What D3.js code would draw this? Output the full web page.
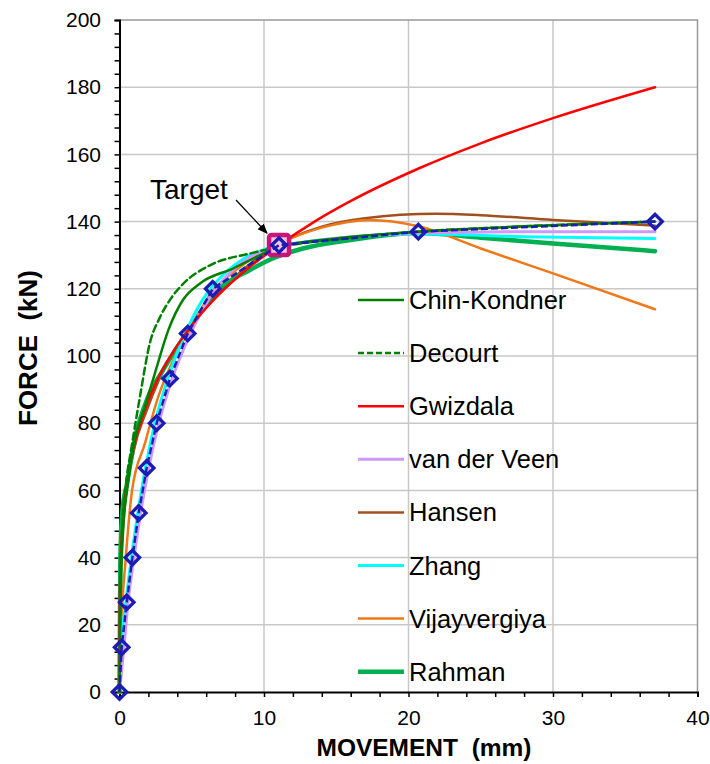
<!DOCTYPE html>
<html><head><meta charset="utf-8">
<script src="https://cdn.jsdelivr.net/npm/d3@7"></script>
<style>body{margin:0;background:#fff}svg{display:block}text{font-family:"Liberation Sans",Arial,sans-serif}</style>
</head><body><div id="chart"></div>
<script>
// ---- data ----
const xTicks = [0, 10, 20, 30, 40];
const yTicks = [0, 20, 40, 60, 80, 100, 120, 140, 160, 180, 200];

const measuredS = [0, 0.15, 0.5, 0.89, 1.33, 1.88, 2.57, 3.49, 4.72, 6.45, 11.04, 20.68, 37.06];
const measuredQ = [0, 13.3, 26.7, 40, 53.3, 66.7, 80, 93.3, 106.7, 120, 133, 137, 140];

const target = [11.04, 133];

const chinS = [0, 0.08, 0.25, 0.52, 1.0, 1.76, 2.46, 3.38, 4.41, 5.57, 7.88, 10.2, 11.04, 15, 20.7, 28, 37.06];
const chinQ = [0, 28, 48, 60, 74, 85, 95, 107.7, 116.8, 121.6, 126.1, 131, 132.6, 135, 137, 138.6, 140];

const decourtS = [0, 0.05, 0.2, 0.45, 0.84, 1.42, 2.11, 2.8, 3.49, 4.41, 6.26, 9.03, 11.04, 15, 20.7, 28, 37.06];
const decourtQ = [0, 30, 50, 62, 73, 88, 104, 111.5, 116.7, 121.5, 127, 130.5, 132.4, 134.8, 137, 138.6, 140];

const gwizS = [0, 0.02, 0.05, 0.1, 0.29, 0.6, 1.0, 1.8, 2.69, 3.8, 4.88, 6.45, 8.5, 11.04, 13.5, 15.95, 20.7, 25, 30, 37.06];
const gwizQ = [0, 27, 34.5, 41, 53.8, 64.5, 73, 84.5, 93.5, 101.8, 108.5, 116.4, 124.7, 133, 140, 146, 155.8, 163.3, 170.8, 180];

const veenS = [0, 0.3, 0.6, 1.0, 1.45, 2.02, 2.72, 3.65, 4.9, 6.55, 11.04, 20.7, 28, 37.06];
const veenQ = [0, 13, 27, 40, 53, 66.7, 80, 93.3, 106.5, 119.3, 132.5, 136.6, 137, 137];

const hansenS = [0, 0.05, 0.3, 1.0, 1.9, 2.69, 3.8, 4.88, 6.45, 8.5, 11.04, 14, 17, 21.9, 25, 30, 37.06];
const hansenQ = [0, 33, 52, 72, 84, 92.5, 101.5, 108.5, 117, 125.5, 133.3, 138.5, 141, 142.3, 141.9, 140.5, 138.8];

const zhangS = [0, 0.12, 0.45, 0.83, 1.27, 1.8, 2.45, 3.35, 4.55, 6.2, 11.04, 20.7, 28, 37.06];
const zhangQ = [0, 13, 27, 40, 53.3, 66.7, 80, 93.3, 106.7, 119.5, 132.8, 136.3, 135.5, 135];

const vijayS = [0, 0.15, 0.4, 0.87, 1.76, 2.69, 3.61, 5.0, 6.38, 8.2, 10.3, 11.04, 14, 17.3, 20.7, 25, 30, 37.06];
const vijayQ = [0, 22, 38, 60, 74, 88, 97.8, 109, 119, 126, 132, 133.5, 138.2, 140.5, 138.6, 132, 124.6, 113.9];

const rahmanS = [0, 0.06, 0.2, 0.52, 1.0, 1.99, 2.9, 3.9, 4.65, 6.73, 9.03, 10.64, 12.7, 16, 20.7, 25, 30, 37.06];
const rahmanQ = [0, 40, 54, 62, 74, 88, 95, 102, 106.8, 119.3, 125.6, 129.1, 132, 134.5, 136.6, 135.2, 133.5, 131.2];

const seriesNames = ["Chin-Kondner", "Decourt", "Gwizdala", "van der Veen", "Hansen", "Zhang", "Vijayvergiya", "Rahman"];
const seriesColors = ["#008000", "#008000", "#ff0000", "#cc99ff", "#a0501e", "#00ffff", "#f07818", "#00b050"];

// ---- chart ----
const W = 710, H = 764;
const m = {left: 119.5, right: 12.5, top: 20, bottom: 72};
const svg = d3.select("#chart").append("svg").attr("width", W).attr("height", H);
const x = d3.scaleLinear().domain([0, 40]).range([m.left, W - m.right]);
const y = d3.scaleLinear().domain([0, 200]).range([H - m.bottom, m.top]);

// grid
svg.append("g").selectAll("line").data(yTicks.slice(1, -1)).join("line")
  .attr("x1", x(0)).attr("x2", x(40)).attr("y1", d => y(d)).attr("y2", d => y(d))
  .attr("stroke", "#c8c8c8").attr("stroke-width", 1.5);
svg.append("g").selectAll("line").data(xTicks.slice(1, -1)).join("line")
  .attr("y1", y(0)).attr("y2", y(200)).attr("x1", d => x(d)).attr("x2", d => x(d))
  .attr("stroke", "#c8c8c8").attr("stroke-width", 1.5);
// top/right border
svg.append("path").attr("d", `M${x(0)},${y(200)}H${x(40)}V${y(0)}`)
  .attr("fill", "none").attr("stroke", "#999").attr("stroke-width", 1.5);

// axes
const xAxis = d3.axisBottom(x).tickValues(d3.range(0, 40.01, 2)).tickSize(5).tickFormat(d => xTicks.includes(d) ? d : "");
const yAxis = d3.axisLeft(y).tickValues(d3.range(0, 200.01, 4)).tickSize(5).tickFormat(d => yTicks.includes(d) ? d : "");
const gx = svg.append("g").attr("transform", `translate(0,${y(0)})`).call(xAxis);
const gy = svg.append("g").attr("transform", `translate(${x(0)},0)`).call(yAxis);
[gx, gy].forEach(g => {
  g.select(".domain").attr("stroke", "#000").attr("stroke-width", 2);
  g.selectAll(".tick line").attr("stroke", "#000").attr("stroke-width", 1.5);
  g.selectAll(".tick text").attr("fill", "#000").attr("font-size", 21).attr("font-family", "Liberation Sans, Arial, sans-serif");
});
gx.selectAll(".tick text").attr("dy", "1.2em");
gy.selectAll(".tick text").attr("dx", "-0.5em");

svg.append("text").attr("x", 424).attr("y", 756).attr("text-anchor", "middle")
  .attr("font-size", 24.5).attr("font-weight", "bold").text("MOVEMENT\u00A0 (mm)");
svg.append("text").attr("transform", `translate(37,${(y(0) + y(200)) / 2 - 8}) rotate(-90)`)
  .attr("text-anchor", "middle").attr("font-size", 26).attr("font-weight", "bold").text("FORCE\u00A0 (kN)");

// curves
const allS = [chinS, decourtS, gwizS, veenS, hansenS, zhangS, vijayS, rahmanS];
const allQ = [chinQ, decourtQ, gwizQ, veenQ, hansenQ, zhangQ, vijayQ, rahmanQ];
const widths = [2.5, 2.5, 2.5, 3, 2.5, 3, 2.5, 4.5];
const dashes = [null, "7,4", null, null, null, null, null, null];
const line = d3.line().x(d => x(d[0])).y(d => y(d[1])).curve(d3.curveMonotoneX);
const drawOrder = [4, 7, 6, 5, 3, 2, 0, 1];
drawOrder.forEach(i => {
  const pts = allS[i].map((s, k) => [s, allQ[i][k]]);
  svg.append("path").attr("d", line(pts)).attr("fill", "none")
    .attr("stroke", seriesColors[i]).attr("stroke-width", widths[i])
    .attr("stroke-dasharray", dashes[i]).attr("stroke-linecap", "round");
});

// target marker
svg.append("rect").attr("x", x(target[0]) - 10).attr("y", y(target[1]) - 10)
  .attr("width", 20).attr("height", 20).attr("rx", 2.5)
  .attr("fill", "#f3c6df").attr("stroke", "#c8157a").attr("stroke-width", 4.5);

// measured
const mpts = measuredS.map((s, k) => [s, measuredQ[k]]);
svg.append("path").attr("d", d3.line().x(d => x(d[0])).y(d => y(d[1]))(mpts))
  .attr("fill", "none").attr("stroke", "#1c1cb4").attr("stroke-width", 2.5).attr("stroke-dasharray", "7,3");
const diamond = d3.symbol().type(d3.symbolSquare).size(105);
svg.append("g").selectAll("path").data(mpts).join("path")
  .attr("d", diamond).attr("transform", d => `translate(${x(d[0])},${y(d[1])}) rotate(45)`)
  .attr("fill", "none").attr("stroke", "#1c1cb4").attr("stroke-width", 3.3);

// target annotation
svg.append("defs").append("marker").attr("id", "ah").attr("viewBox", "0 0 10 10")
  .attr("refX", 9).attr("refY", 5).attr("markerWidth", 8).attr("markerHeight", 8).attr("orient", "auto")
  .append("path").attr("d", "M0,1L10,5L0,9Z").attr("fill", "#000");
svg.append("line").attr("x1", 236).attr("y1", 200).attr("x2", x(target[0]) - 12).attr("y2", y(target[1]) - 12)
  .attr("stroke", "#000").attr("stroke-width", 1.3).attr("marker-end", "url(#ah)");
svg.append("text").attr("x", 150).attr("y", 199).attr("font-size", 28).text("Target");

// legend
const lg = svg.append("g");
seriesNames.forEach((n, i) => {
  const yy = 300 + i * 53.1;
  lg.append("line").attr("x1", 358).attr("x2", 404).attr("y1", yy).attr("y2", yy)
    .attr("stroke", seriesColors[i]).attr("stroke-width", widths[i])
    .attr("stroke-dasharray", i === 1 ? "6,3" : null);
  lg.append("text").attr("x", 409).attr("y", yy + 9).attr("font-size", 25.5).attr("fill", "#000").text(n);
});
</script></body></html>
